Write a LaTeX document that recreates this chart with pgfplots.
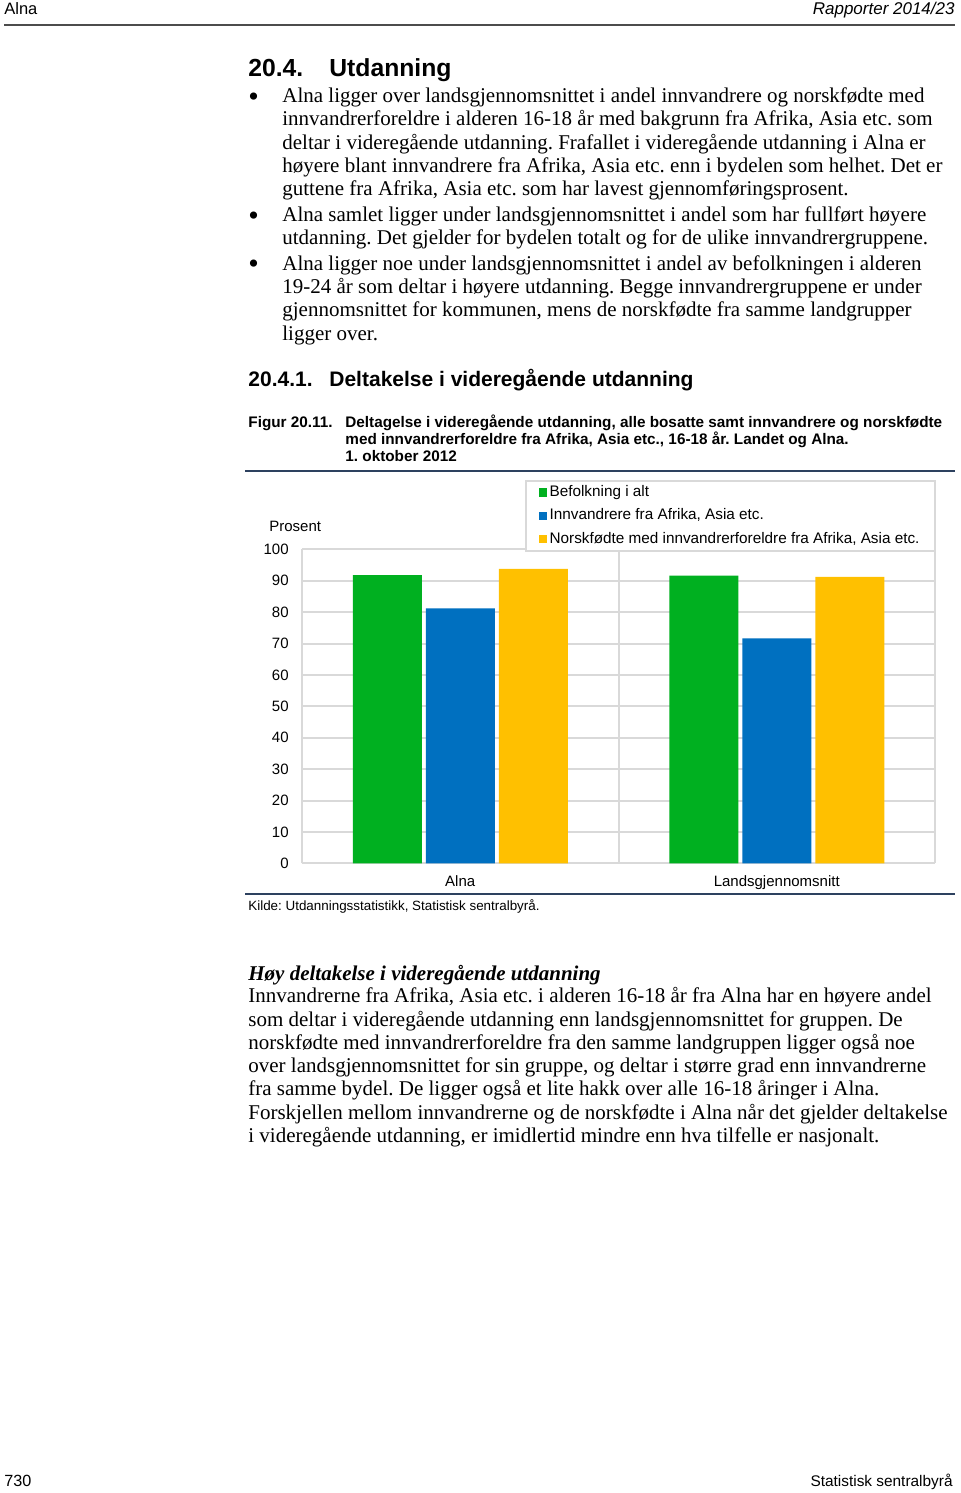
\documentclass[border=0pt]{standalone}
\usepackage{fontspec}
\setmainfont{Liberation Serif}
\newfontfamily\arial{Liberation Sans}
\usepackage{pgfplots}
\pgfplotsset{compat=1.18}
\definecolor{cgreen}{RGB}{0,176,32}
\definecolor{cblue}{RGB}{0,112,192}
\definecolor{cyellow}{RGB}{255,192,0}
\definecolor{cgrid}{RGB}{217,217,217}
\definecolor{crule}{RGB}{45,65,95}
\newcommand\fs[1]{\fontsize{#1}{#1}\selectfont}
\begin{document}
\frenchspacing
\begin{tikzpicture}[x=0.5pt,y=-0.5pt,
  body/.style={anchor=base west,inner sep=0pt,font=\fs{10.5}},
  bul/.style={anchor=base west,inner sep=0pt,font=\fs{15}}]
\path[use as bounding box,fill=white] (0,0) rectangle (960,1493);
% header
\node[anchor=base west,inner sep=0pt,font=\arial\fs{8.25}] at (4,15) {Alna};
\node[anchor=base east,inner sep=0pt,font=\arial\itshape\fs{8.5}] at (955,15) {Rapporter 2014/23};
\draw[line width=1pt,color=black!70] (4,25.5) -- (955,25.5);
% headings
\node[anchor=base west,inner sep=0pt,font=\arial\bfseries\fs{12.35}] at (248,77) {20.4.};
\node[anchor=base west,inner sep=0pt,font=\arial\bfseries\fs{12.35}] at (329,77) {Utdanning};
% bullets
\node[bul] at (248,106) {\textbullet};
\node[body] at (282,102.5) {Alna ligger over landsgjennomsnittet i andel innvandrere og norskfødte med};
\node[body] at (282,125.8) {innvandrerforeldre i alderen 16-18 år med bakgrunn fra Afrika, Asia etc. som};
\node[body] at (282,149.1) {deltar i videregående utdanning. Frafallet i videregående utdanning i Alna er};
\node[body] at (282,172.4) {høyere blant innvandrere fra Afrika, Asia etc. enn i bydelen som helhet. Det er};
\node[body] at (282,195.7) {guttene fra Afrika, Asia etc. som har lavest gjennomføringsprosent.};
\node[bul] at (248,225) {\textbullet};
\node[body] at (282,221.5) {Alna samlet ligger under landsgjennomsnittet i andel som har fullført høyere};
\node[body] at (282,244.8) {utdanning. Det gjelder for bydelen totalt og for de ulike innvandrergruppene.};
\node[bul] at (248,273.8) {\textbullet};
\node[body] at (282,270.3) {Alna ligger noe under landsgjennomsnittet i andel av befolkningen i alderen};
\node[body] at (282,293.6) {19-24 år som deltar i høyere utdanning. Begge innvandrergruppene er under};
\node[body] at (282,316.9) {gjennomsnittet for kommunen, mens de norskfødte fra samme landgrupper};
\node[body] at (282,340.2) {ligger over.};
% subheading
\node[anchor=base west,inner sep=0pt,font=\arial\bfseries\fs{10.5}] at (248,386) {20.4.1.};
\node[anchor=base west,inner sep=0pt,font=\arial\bfseries\fs{10.5}] at (329,386) {Deltakelse i videregående utdanning};
% caption
\node[anchor=base west,inner sep=0pt,font=\arial\bfseries\fs{7.65}] at (248,427) {Figur 20.11.};
\node[anchor=base west,inner sep=0pt,font=\arial\bfseries\fs{7.65}] at (345,427) {Deltagelse i videregående utdanning, alle bosatte samt innvandrere og norskfødte};
\node[anchor=base west,inner sep=0pt,font=\arial\bfseries\fs{7.65}] at (345,444) {med innvandrerforeldre fra Afrika, Asia etc., 16-18 år. Landet og Alna.};
\node[anchor=base west,inner sep=0pt,font=\arial\bfseries\fs{7.65}] at (345,461) {1. oktober 2012};
\draw[line width=1pt,color=crule] (245,470.5) -- (955,470.5);
% chart
\node[anchor=base west,inner sep=0pt,font=\arial\fs{7.5}] at (269,531) {Prosent};
\begin{axis}[
  at={(151pt,-431.65pt)}, anchor=south west,
  scale only axis, width=316.5pt, height=157pt,
  xmin=-0.5, xmax=1.5, ymin=0, ymax=100,
  ybar=2pt, bar width=34.5pt,
  xtick={0,1}, xticklabels={Alna,Landsgjennomsnitt},
  ytick={0,10,...,100},
  extra x ticks={-0.5,0.5,1.5}, extra x tick labels={},
  extra x tick style={grid=major},
  ymajorgrids=true,
  grid style={cgrid,line width=1pt},
  axis line style={draw=none},
  tick style={draw=none}, major tick length=0pt,
  /pgf/number format/assume math mode=true,
  tick label style={font=\arial\fs{7.5}},
  yticklabel style={inner sep=0pt, anchor=east, xshift=-6.5pt},
  xticklabel style={inner sep=0pt, anchor=base, yshift=-11.4pt},
  legend style={at={(0.3523,1.2207)}, anchor=north west,
    draw=cgrid, line width=0.8pt, fill=white,
    inner xsep=6.5pt, inner ysep=0pt, row sep=0pt, column sep=0pt,
    font=\arial\fs{7.65},
    nodes={inner xsep=1.2pt, inner ysep=2.35pt, text height=5.5pt, text depth=1.5pt}},
  legend cell align=left,
]
\addplot[fill=cgreen, draw=none, legend image code/.code={\fill[cgreen] (0pt,-2pt) rectangle (4.2pt,2.2pt);}]
  coordinates {(0,91.8) (1,91.6)};
\addlegendentry{Befolkning i alt}
\addplot[fill=cblue, draw=none, legend image code/.code={\fill[cblue] (0pt,-2pt) rectangle (4.2pt,2.2pt);}]
  coordinates {(0,81.2) (1,71.6)};
\addlegendentry{Innvandrere fra Afrika, Asia etc.}
\addplot[fill=cyellow, draw=none, legend image code/.code={\fill[cyellow] (0pt,-2pt) rectangle (4.2pt,2.2pt);}]
  coordinates {(0,93.8) (1,91.2)};
\addlegendentry{Norskfødte med innvandrerforeldre fra Afrika, Asia etc.}
\end{axis}
\draw[line width=1pt,color=crule] (245,894) -- (955,894);
\node[anchor=base west,inner sep=0pt,font=\arial\fs{6.7}] at (248,910) {Kilde: Utdanningsstatistikk, Statistisk sentralbyrå.};
% lower text
\node[anchor=base west,inner sep=0pt,font=\bfseries\itshape\fs{10.5}] at (248,980) {Høy deltakelse i videregående utdanning};
\node[body] at (248,1002.7) {Innvandrerne fra Afrika, Asia etc. i alderen 16-18 år fra Alna har en høyere andel};
\node[body] at (248,1026) {som deltar i videregående utdanning enn landsgjennomsnittet for gruppen. De};
\node[body] at (248,1049.3) {norskfødte med innvandrerforeldre fra den samme landgruppen ligger også noe};
\node[body] at (248,1072.6) {over landsgjennomsnittet for sin gruppe, og deltar i større grad enn innvandrerne};
\node[body] at (248,1095.9) {fra samme bydel. De ligger også et lite hakk over alle 16-18 åringer i Alna.};
\node[body] at (248,1119.2) {Forskjellen mellom innvandrerne og de norskfødte i Alna når det gjelder deltakelse};
\node[body] at (248,1142.5) {i videregående utdanning, er imidlertid mindre enn hva tilfelle er nasjonalt.};
% footer
\node[anchor=base west,inner sep=0pt,font=\arial\fs{8.1}] at (4,1486) {730};
\node[anchor=base east,inner sep=0pt,font=\arial\fs{7.7}] at (953,1486) {Statistisk sentralbyrå};
\end{tikzpicture}
\end{document}
